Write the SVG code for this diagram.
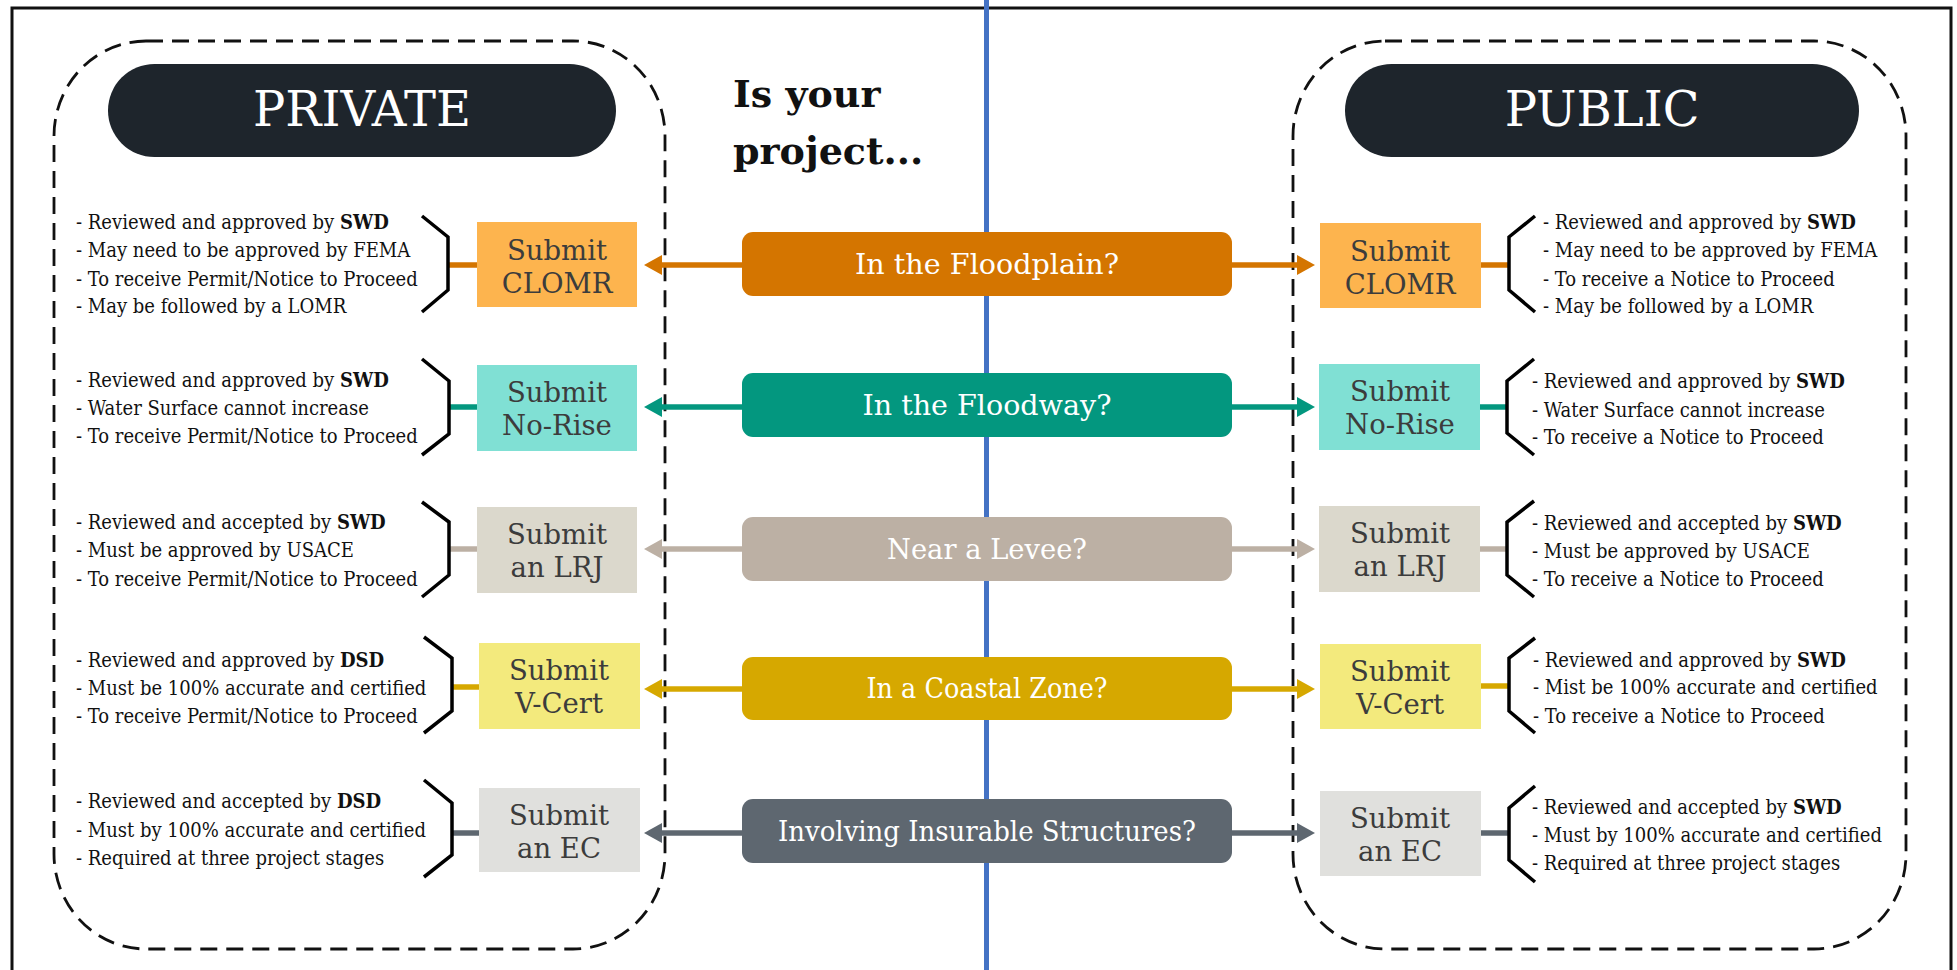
<svg xmlns="http://www.w3.org/2000/svg" width="1957" height="970" viewBox="0 0 1957 970">
  <style>
    .frame { fill: none; stroke: #111; stroke-width: 3; }
    .zone { fill: none; stroke: #111; stroke-width: 2.8; stroke-dasharray: 17 9; }
    .pill { fill: #1E252C; }
    .pillText { font-family: "DejaVu Serif", "Liberation Serif", serif; font-size: 48px; fill: #fff; text-anchor: middle; }
    .title { font-family: "DejaVu Serif", "Liberation Serif", serif; font-weight: bold; font-size: 38px; fill: #111; }
    .qText { font-family: "DejaVu Serif", "Liberation Serif", serif; font-size: 28px; fill: #fff; text-anchor: middle; }
    .subText { font-family: "DejaVu Serif", "Liberation Serif", serif; font-size: 27.5px; fill: #3c3c3c; text-anchor: middle; }
    .note { font-family: "DejaVu Serif", "Liberation Serif", serif; font-stretch: condensed; font-size: 20px; fill: #111; }
    .note tspan.b { font-weight: bold; }
    .brace { fill: none; stroke: #000; stroke-width: 3.5; stroke-linejoin: miter; }
    .link { fill: none; stroke-width: 5.5; }
    .c1 { stroke: #D47500; } .f1 { fill: #D47500; } .s1 { fill: #FDB44E; }
    .c2 { stroke: #03977F; } .f2 { fill: #03977F; } .s2 { fill: #80E0D4; }
    .c3 { stroke: #BCB0A4; } .f3 { fill: #BCB0A4; } .s3 { fill: #DBD8CC; }
    .c4 { stroke: #D6A800; } .f4 { fill: #D6A800; } .s4 { fill: #F3EA7D; }
    .c5 { stroke: #5E6770; } .f5 { fill: #5E6770; } .s5 { fill: #E0E0DD; }
  </style>
  <defs>
    <marker id="head1" viewBox="0 0 18 20" refX="0" refY="10" markerWidth="18" markerHeight="20" markerUnits="userSpaceOnUse" orient="auto"><path d="M0,0 L18,10 L0,20 z" fill="#D47500"/></marker>
    <marker id="head2" viewBox="0 0 18 20" refX="0" refY="10" markerWidth="18" markerHeight="20" markerUnits="userSpaceOnUse" orient="auto"><path d="M0,0 L18,10 L0,20 z" fill="#03977F"/></marker>
    <marker id="head3" viewBox="0 0 18 20" refX="0" refY="10" markerWidth="18" markerHeight="20" markerUnits="userSpaceOnUse" orient="auto"><path d="M0,0 L18,10 L0,20 z" fill="#BCB0A4"/></marker>
    <marker id="head4" viewBox="0 0 18 20" refX="0" refY="10" markerWidth="18" markerHeight="20" markerUnits="userSpaceOnUse" orient="auto"><path d="M0,0 L18,10 L0,20 z" fill="#D6A800"/></marker>
    <marker id="head5" viewBox="0 0 18 20" refX="0" refY="10" markerWidth="18" markerHeight="20" markerUnits="userSpaceOnUse" orient="auto"><path d="M0,0 L18,10 L0,20 z" fill="#5E6770"/></marker>
  </defs>

  <rect width="1957" height="970" fill="#fff"/>
  <!-- outer frame, open at the bottom edge -->
  <path class="frame" d="M12,975 L12,8 L1951,8 L1951,975"/>

  <!-- central divider -->
  <line x1="986.5" y1="0" x2="986.5" y2="970" stroke="#4472C4" stroke-width="5"/>

  <!-- dashed zones -->
  <g id="zone-private">
    <rect class="zone" x="54" y="41" width="611" height="908" rx="92" ry="95"/>
    <rect class="pill" x="108" y="64" width="508" height="93" rx="46.5"/>
    <text class="pillText" x="362" y="126">PRIVATE</text>
  </g>
  <g id="zone-public">
    <rect class="zone" x="1293" y="41" width="613" height="908" rx="92" ry="95"/>
    <rect class="pill" x="1345" y="64" width="514" height="93" rx="46.5"/>
    <text class="pillText" x="1602" y="126">PUBLIC</text>
  </g>

  <g id="heading">
    <text class="title" x="733" y="107">Is your</text>
    <text class="title" x="733" y="164">project...</text>
  </g>

  <!-- connectors -->
  <g id="connectors">
    <line class="link c1" x1="742" y1="265" x2="662" y2="265" marker-end="url(#head1)"/>
    <line class="link c1" x1="1232" y1="265" x2="1297" y2="265" marker-end="url(#head1)"/>
    <line class="link c1" x1="477" y1="265" x2="449" y2="265"/>
    <line class="link c1" x1="1481" y1="265" x2="1509" y2="265"/>

    <line class="link c2" x1="742" y1="407" x2="662" y2="407" marker-end="url(#head2)"/>
    <line class="link c2" x1="1232" y1="407" x2="1297" y2="407" marker-end="url(#head2)"/>
    <line class="link c2" x1="477" y1="407" x2="449" y2="407"/>
    <line class="link c2" x1="1480" y1="407" x2="1507" y2="407"/>

    <line class="link c3" x1="742" y1="549" x2="662" y2="549" marker-end="url(#head3)"/>
    <line class="link c3" x1="1232" y1="549" x2="1297" y2="549" marker-end="url(#head3)"/>
    <line class="link c3" x1="477" y1="549" x2="449" y2="549"/>
    <line class="link c3" x1="1480" y1="549" x2="1507" y2="549"/>

    <line class="link c4" x1="742" y1="689" x2="662" y2="689" marker-end="url(#head4)"/>
    <line class="link c4" x1="1232" y1="689" x2="1297" y2="689" marker-end="url(#head4)"/>
    <line class="link c4" x1="479" y1="687" x2="452" y2="687"/>
    <line class="link c4" x1="1481" y1="686" x2="1509" y2="686"/>

    <line class="link c5" x1="742" y1="833" x2="662" y2="833" marker-end="url(#head5)"/>
    <line class="link c5" x1="1232" y1="833" x2="1297" y2="833" marker-end="url(#head5)"/>
    <line class="link c5" x1="479" y1="833" x2="452" y2="833"/>
    <line class="link c5" x1="1481" y1="833" x2="1509" y2="833"/>
  </g>

  <!-- question boxes -->
  <g id="q-floodplain">
    <rect class="f1" x="742" y="232" width="490" height="64" rx="11"/>
    <text class="qText" x="987" y="274" textLength="264" lengthAdjust="spacingAndGlyphs">In the Floodplain?</text>
  </g>
  <g id="q-floodway">
    <rect class="f2" x="742" y="373" width="490" height="64" rx="11"/>
    <text class="qText" x="987" y="415" textLength="249" lengthAdjust="spacingAndGlyphs">In the Floodway?</text>
  </g>
  <g id="q-levee">
    <rect class="f3" x="742" y="517" width="490" height="64" rx="11"/>
    <text class="qText" x="987" y="559" textLength="200" lengthAdjust="spacingAndGlyphs">Near a Levee?</text>
  </g>
  <g id="q-coastal">
    <rect class="f4" x="742" y="657" width="490" height="63" rx="11"/>
    <text class="qText" x="987" y="698" textLength="241" lengthAdjust="spacingAndGlyphs">In a Coastal Zone?</text>
  </g>
  <g id="q-insurable">
    <rect class="f5" x="742" y="799" width="490" height="64" rx="11"/>
    <text class="qText" x="987" y="841" textLength="418" lengthAdjust="spacingAndGlyphs">Involving Insurable Structures?</text>
  </g>

  <!-- private submissions -->
  <g id="private-clomr">
    <rect class="s1" x="477" y="222" width="160" height="85"/>
    <text class="subText" x="557" y="260">Submit</text>
    <text class="subText" x="557" y="293">CLOMR</text>
    <polyline class="brace" points="422,216 448,237 448,290 422,312"/>
    <text class="note" x="76" y="229">- Reviewed and approved by <tspan class="b">SWD</tspan></text>
    <text class="note" x="76" y="257">- May need to be approved by FEMA</text>
    <text class="note" x="76" y="286">- To receive Permit/Notice to Proceed</text>
    <text class="note" x="76" y="313">- May be followed by a LOMR</text>
  </g>
  <g id="private-norise">
    <rect class="s2" x="477" y="365" width="160" height="86"/>
    <text class="subText" x="557" y="402">Submit</text>
    <text class="subText" x="557" y="435">No-Rise</text>
    <polyline class="brace" points="422,359 449,381 449,434 422,455"/>
    <text class="note" x="76" y="387">- Reviewed and approved by <tspan class="b">SWD</tspan></text>
    <text class="note" x="76" y="415">- Water Surface cannot increase</text>
    <text class="note" x="76" y="443">- To receive Permit/Notice to Proceed</text>
  </g>
  <g id="private-lrj">
    <rect class="s3" x="477" y="507" width="160" height="86"/>
    <text class="subText" x="557" y="544">Submit</text>
    <text class="subText" x="557" y="577">an LRJ</text>
    <polyline class="brace" points="422,502 449,522 449,575 422,597"/>
    <text class="note" x="76" y="529">- Reviewed and accepted by <tspan class="b">SWD</tspan></text>
    <text class="note" x="76" y="557">- Must be approved by USACE</text>
    <text class="note" x="76" y="586">- To receive Permit/Notice to Proceed</text>
  </g>
  <g id="private-vcert">
    <rect class="s4" x="479" y="643" width="161" height="86"/>
    <text class="subText" x="559" y="680">Submit</text>
    <text class="subText" x="559" y="713">V-Cert</text>
    <polyline class="brace" points="424,637 452,658 452,711 424,733"/>
    <text class="note" x="76" y="667">- Reviewed and approved by <tspan class="b">DSD</tspan></text>
    <text class="note" x="76" y="695">- Must be 100% accurate and certified</text>
    <text class="note" x="76" y="723">- To receive Permit/Notice to Proceed</text>
  </g>
  <g id="private-ec">
    <rect class="s5" x="479" y="788" width="161" height="84"/>
    <text class="subText" x="559" y="825">Submit</text>
    <text class="subText" x="559" y="858">an EC</text>
    <polyline class="brace" points="424,780 452,803 452,855 424,877"/>
    <text class="note" x="76" y="808">- Reviewed and accepted by <tspan class="b">DSD</tspan></text>
    <text class="note" x="76" y="837">- Must by 100% accurate and certified</text>
    <text class="note" x="76" y="865">- Required at three project stages</text>
  </g>

  <!-- public submissions -->
  <g id="public-clomr">
    <rect class="s1" x="1320" y="223" width="161" height="85"/>
    <text class="subText" x="1400" y="261">Submit</text>
    <text class="subText" x="1400" y="294">CLOMR</text>
    <polyline class="brace" points="1535,216 1509,237 1509,290 1535,312"/>
    <text class="note" x="1543" y="229">- Reviewed and approved by <tspan class="b">SWD</tspan></text>
    <text class="note" x="1543" y="257">- May need to be approved by FEMA</text>
    <text class="note" x="1543" y="286">- To receive a Notice to Proceed</text>
    <text class="note" x="1543" y="313">- May be followed by a LOMR</text>
  </g>
  <g id="public-norise">
    <rect class="s2" x="1319" y="364" width="161" height="86"/>
    <text class="subText" x="1400" y="401">Submit</text>
    <text class="subText" x="1400" y="434">No-Rise</text>
    <polyline class="brace" points="1534,359 1507,381 1507,433 1534,455"/>
    <text class="note" x="1532" y="388">- Reviewed and approved by <tspan class="b">SWD</tspan></text>
    <text class="note" x="1532" y="417">- Water Surface cannot increase</text>
    <text class="note" x="1532" y="444">- To receive a Notice to Proceed</text>
  </g>
  <g id="public-lrj">
    <rect class="s3" x="1319" y="506" width="161" height="86"/>
    <text class="subText" x="1400" y="543">Submit</text>
    <text class="subText" x="1400" y="576">an LRJ</text>
    <polyline class="brace" points="1534,501 1507,522 1507,575 1534,597"/>
    <text class="note" x="1532" y="530">- Reviewed and accepted by <tspan class="b">SWD</tspan></text>
    <text class="note" x="1532" y="558">- Must be approved by USACE</text>
    <text class="note" x="1532" y="586">- To receive a Notice to Proceed</text>
  </g>
  <g id="public-vcert">
    <rect class="s4" x="1320" y="644" width="161" height="85"/>
    <text class="subText" x="1400" y="681">Submit</text>
    <text class="subText" x="1400" y="714">V-Cert</text>
    <polyline class="brace" points="1535,638 1509,658 1509,711 1535,733"/>
    <text class="note" x="1533" y="667">- Reviewed and approved by <tspan class="b">SWD</tspan></text>
    <text class="note" x="1533" y="694">- Mist be 100% accurate and certified</text>
    <text class="note" x="1533" y="723">- To receive a Notice to Proceed</text>
  </g>
  <g id="public-ec">
    <rect class="s5" x="1320" y="791" width="161" height="85"/>
    <text class="subText" x="1400" y="828">Submit</text>
    <text class="subText" x="1400" y="861">an EC</text>
    <polyline class="brace" points="1535,786 1509,808 1509,860 1535,882"/>
    <text class="note" x="1532" y="814">- Reviewed and accepted by <tspan class="b">SWD</tspan></text>
    <text class="note" x="1532" y="842">- Must by 100% accurate and certified</text>
    <text class="note" x="1532" y="870">- Required at three project stages</text>
  </g>
</svg>
